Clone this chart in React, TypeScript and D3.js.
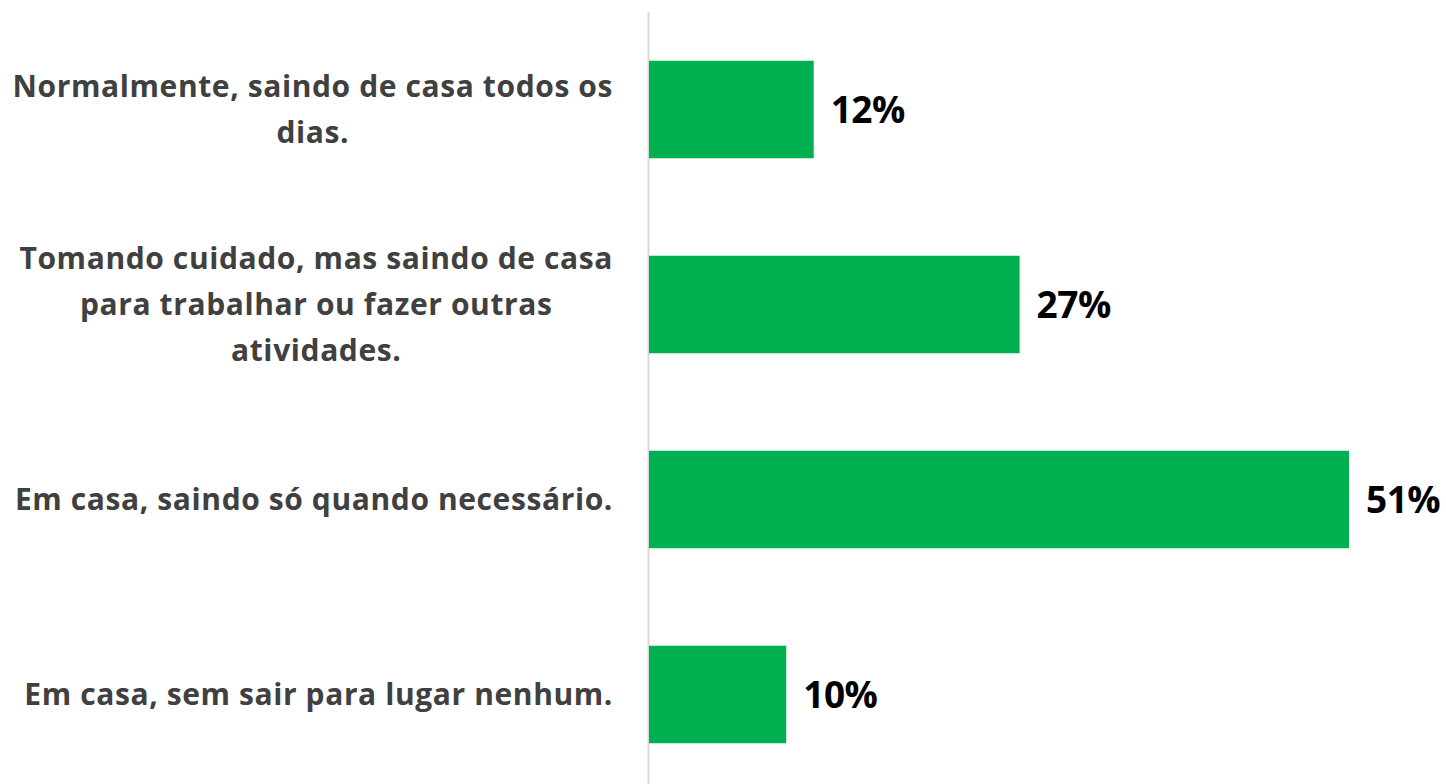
import React, { useEffect, useRef } from "react";
import * as d3 from "d3";

const categories: string[][] = [
  ["Normalmente, saindo de casa todos os", "dias."],
  ["Tomando cuidado, mas saindo de casa", "para trabalhar ou fazer outras", "atividades."],
  ["Em casa, saindo só quando necessário."],
  ["Em casa, sem sair para lugar nenhum."],
];
const values: number[] = [12, 27, 51, 10];
const valueLabels: string[] = ["12%", "27%", "51%", "10%"];

const W = 1446;
const H = 784;
const FONT = "'Open Sans', Lato, sans-serif";

export default function App() {
  const ref = useRef<SVGSVGElement>(null);
  useEffect(() => {
    const svg = d3.select(ref.current);
    svg.selectAll("*").remove();
    const x0 = 649;
    const x = d3.scaleLinear().domain([0, 51]).range([x0, 1349]);
    const y = d3
      .scaleBand<number>()
      .domain(d3.range(categories.length))
      .range([12, 792])
      .paddingInner(0.5)
      .paddingOuter(0.25);

    svg
      .append("line")
      .attr("x1", x0 - 0.5)
      .attr("x2", x0 - 0.5)
      .attr("y1", 12)
      .attr("y2", H)
      .attr("stroke", "#d9d9d9")
      .attr("stroke-width", 2);

    svg
      .selectAll("rect.bar")
      .data(values)
      .join("rect")
      .attr("class", "bar")
      .attr("x", x0)
      .attr("y", (_, i) => y(i)!)
      .attr("width", (d) => x(d) - x0)
      .attr("height", y.bandwidth())
      .attr("fill", "#00b050");

    svg
      .selectAll("text.val")
      .data(values)
      .join("text")
      .attr("class", "val")
      .attr("x", (d) => x(d) + 17)
      .attr("y", (_, i) => y(i)! + y.bandwidth() / 2)
      .attr("dy", "0.36em")
      .attr("font-family", FONT)
      .attr("font-weight", 700)
      .attr("font-size", 37)
      .attr("letter-spacing", -0.5)
      .attr("fill", "#000")
      .text((_, i) => valueLabels[i]);

    const lineH = 46;
    const rightEdge = 613;
    categories.forEach((lines, i) => {
      const cy = y(i)! + y.bandwidth() / 2;
      const g = svg.append("g");
      const texts = lines.map((ln, j) =>
        g
          .append("text")
          .attr("y", cy + (j - (lines.length - 1) / 2) * lineH)
          .attr("dy", "0.36em")
          .attr("text-anchor", "middle")
          .attr("font-family", FONT)
          .attr("font-weight", 700)
          .attr("font-size", 30)
          .attr("letter-spacing", 0.6)
          .attr("fill", "#404040")
          .text(ln)
      );
      const widths = texts.map((t) => (t.node() as SVGTextElement).getComputedTextLength());
      const maxW = d3.max(widths) || 0;
      const cx = rightEdge - maxW / 2;
      texts.forEach((t) => t.attr("x", cx));
    });
  }, []);
  return (
    <svg ref={ref} width={W} height={H} style={{ display: "block", position: "absolute", left: 0, top: 0 }} />
  );
}
